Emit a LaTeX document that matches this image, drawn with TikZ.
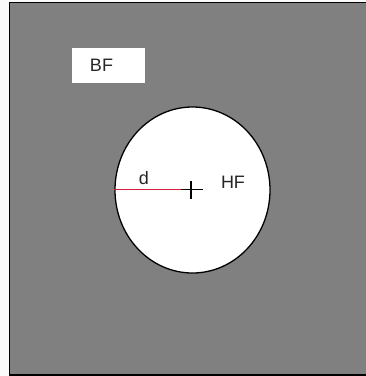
\documentclass[tikz,border=0pt]{standalone}
\usepackage{fontspec}
\setmainfont{Liberation Sans}
\usetikzlibrary{positioning, shapes.geometric}
\definecolor{radred}{RGB}{215,30,60}

\begin{document}
\begin{tikzpicture}[x=1pt, y=-1pt, font=\fontsize{18}{20}\selectfont,
    region/.style={draw=black, line width=1.8pt, fill=gray},
    tag/.style={fill=white, inner sep=0pt, minimum width=73pt, minimum height=35pt},
    lbl/.style={text=black!85},
    hole/.style={ellipse, draw=black, line width=1.3pt, fill=white, minimum width=155pt, minimum height=166pt, inner sep=0pt}]
    \useasboundingbox (0,0) rectangle (366,376);
    % base field with its label box
    \fill[white!96!gray] (0,0) rectangle (366,376);
    \draw[region] (9.5,2.5) rectangle (372,375);
    \node[tag] (bf) at (108.5,65.5) {};
    \node[lbl] (bflabel) at (101.5,65.5) {BF};
    % hole field: ellipse, centre mark and radius
    \node[hole] (hf) at (192.5,190) {};
    \coordinate (c) at (191,189.5);
    \draw[radred, line width=1.1pt] (hf.west |- c) -- (c);
    \draw[line width=1.4pt] ([xshift=-10pt]c) -- ([xshift=12pt]c);
    \draw[line width=1.4pt] ([yshift=-9pt]c) -- ([yshift=9pt]c);
    \node[lbl] (dlabel) at (144,178) {d};
    \node[lbl] (hflabel) at (233,182) {HF};
\end{tikzpicture}
\end{document}
